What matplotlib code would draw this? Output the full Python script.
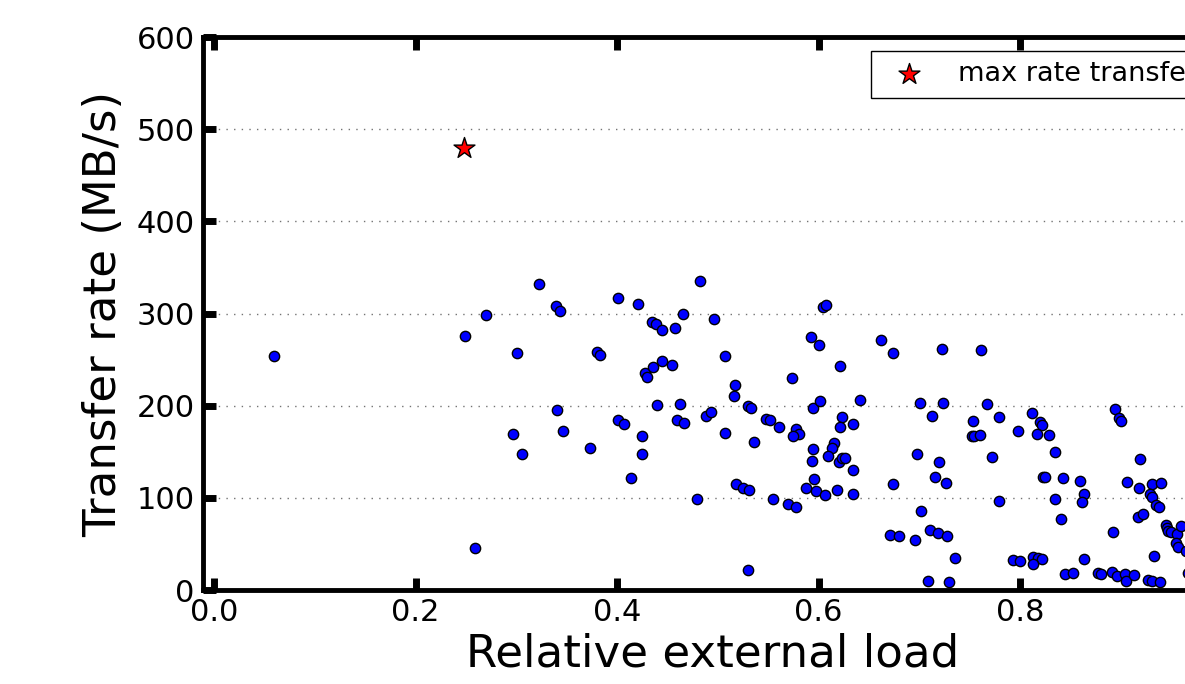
import matplotlib
matplotlib.use("Agg")
import matplotlib.pyplot as plt

# relative external load vs. measured transfer rate (MB/s)
load = [0.059,
        0.323, 0.401, 0.421, 0.339, 0.343, 0.270, 0.249, 0.435, 0.439, 0.445,
        0.465, 0.458, 0.482, 0.301, 0.380, 0.383, 0.428, 0.430, 0.436, 0.445,
        0.455, 0.340, 0.440, 0.462, 0.401, 0.407, 0.460, 0.466, 0.297, 0.346,
        0.425, 0.306, 0.373, 0.425, 0.414, 0.479, 0.259,
        0.496, 0.604, 0.607, 0.593, 0.600, 0.507, 0.662, 0.674, 0.723, 0.621,
        0.574, 0.517, 0.516, 0.530, 0.533, 0.595, 0.601, 0.641, 0.701, 0.724,
        0.488, 0.493, 0.548, 0.552, 0.561, 0.623, 0.621, 0.634, 0.713, 0.578,
        0.581, 0.575, 0.507, 0.536, 0.595, 0.615, 0.613, 0.609, 0.594, 0.620,
        0.623, 0.626, 0.634, 0.698, 0.720, 0.716, 0.727, 0.674, 0.518, 0.525,
        0.531, 0.596, 0.588, 0.597, 0.606, 0.618, 0.634, 0.555, 0.570, 0.578,
        0.702, 0.671, 0.680, 0.696, 0.711, 0.719, 0.728, 0.530, 0.709, 0.730,
        0.761, 0.767, 0.753, 0.779, 0.752, 0.754, 0.760, 0.772, 0.798, 0.812,
        0.820, 0.822, 0.817, 0.829, 0.835, 0.823, 0.825, 0.843, 0.779, 0.835,
        0.860, 0.864, 0.862, 0.841, 0.894, 0.898, 0.900, 0.919, 0.906, 0.918,
        0.931, 0.940, 0.929, 0.931, 0.935, 0.938, 0.917, 0.922, 0.945, 0.946,
        0.947, 0.950, 0.956, 0.960, 0.955, 0.957, 0.965, 0.892, 0.933, 0.735,
        0.793, 0.800, 0.813, 0.818, 0.822, 0.813, 0.864, 0.845, 0.853, 0.877,
        0.880, 0.891, 0.896, 0.904, 0.905, 0.913, 0.927, 0.931, 0.939, 0.967]
rate = [254,
        332, 317, 310, 308, 303, 298, 276, 291, 289, 282,
        299, 284, 335, 257, 258, 255, 235, 231, 242, 248,
        244, 195, 201, 202, 185, 180, 185, 181, 169, 173,
        167, 148, 154, 148, 122, 99, 46,
        294, 307, 309, 274, 266, 254, 271, 257, 261, 243,
        230, 222, 211, 200, 198, 198, 205, 206, 203, 203,
        189, 193, 186, 184, 177, 188, 177, 180, 189, 175,
        169, 167, 170, 161, 153, 159, 154, 145, 140, 139,
        143, 143, 130, 148, 139, 123, 116, 115, 115, 111,
        109, 120, 111, 107, 103, 108, 104, 99, 93, 90,
        86, 60, 59, 54, 65, 62, 59, 22, 10, 9,
        260, 202, 183, 188, 167, 167, 168, 144, 173, 192,
        182, 179, 169, 168, 150, 123, 123, 122, 97, 99,
        118, 104, 95, 77, 196, 187, 183, 142, 117, 111,
        115, 116, 104, 101, 92, 90, 79, 82, 71, 67,
        64, 63, 61, 70, 51, 47, 42, 63, 37, 35,
        33, 31, 36, 35, 34, 28, 34, 17, 18, 18,
        17, 20, 15, 17, 10, 16, 11, 10, 9, 19]

best_load = [0.248]
best_rate = [480]


def main():
    fig = plt.figure(figsize=(11.85, 6.84), dpi=100)
    ax = fig.add_axes([0.1713, 0.1374, 0.8595, 0.8085])

    ax.scatter(load, rate, s=55, c="blue", edgecolors="black", linewidths=1, zorder=3)
    ax.scatter(best_load, best_rate, s=250, marker="*", c="red", edgecolors="black",
               linewidths=1, zorder=4, label="max rate transfer")

    ax.set_xlim(-0.011, 1.0)
    ax.set_ylim(0, 600)
    ax.set_xticks([0.0, 0.2, 0.4, 0.6, 0.8, 1.0])
    ax.yaxis.grid(True, linestyle=(0, (1, 4.5)), color="0.45", linewidth=1)
    ax.set_axisbelow(True)

    ax.tick_params(direction="in", length=9, width=5, labelsize=22,
                   top=True, right=True, pad=6)
    for sp in ax.spines.values():
        sp.set_linewidth(3.5)

    ax.set_xlabel("Relative external load", fontsize=32.5, labelpad=4)
    ax.set_ylabel("Transfer rate (MB/s)", fontsize=32.5, labelpad=8)

    ax.legend(loc="upper right", scatterpoints=1, fontsize=19.5, fancybox=False,
              edgecolor="black", framealpha=1)

    fig.savefig("out.png", dpi=100)


if __name__ == "__main__":
    main()
